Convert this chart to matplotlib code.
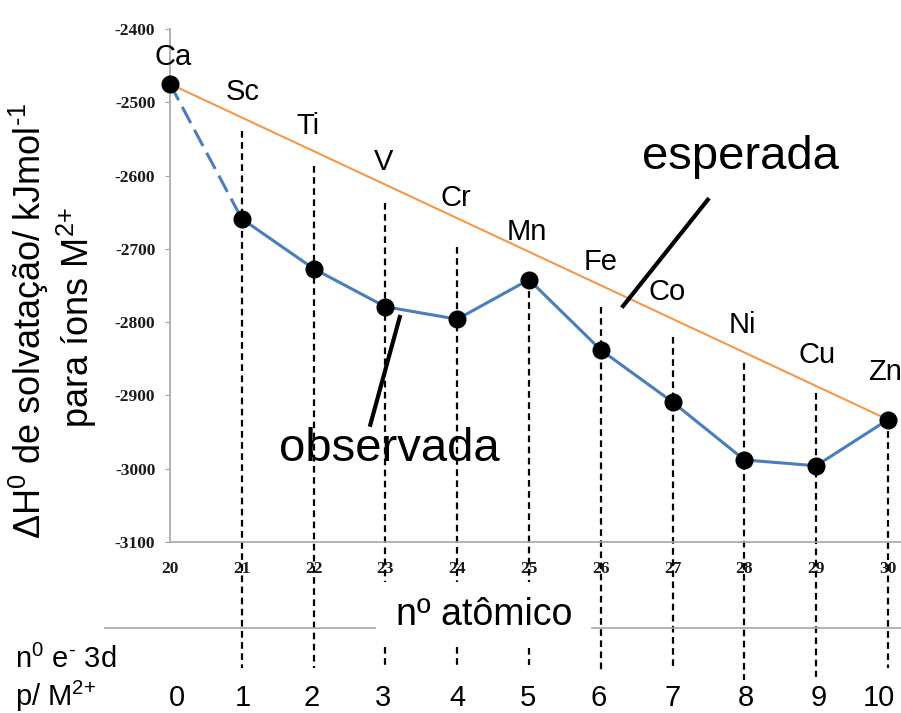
import matplotlib
matplotlib.use("Agg")
import matplotlib.pyplot as plt
from matplotlib.lines import Line2D
from matplotlib.transforms import blended_transform_factory

plt.rcParams['font.family'] = ['Liberation Sans', 'DejaVu Sans']
plt.rcParams['mathtext.fontset'] = 'custom'
plt.rcParams['mathtext.rm'] = 'Liberation Sans'
plt.rcParams['mathtext.it'] = 'Liberation Sans:italic'
plt.rcParams['mathtext.bf'] = 'Liberation Sans:bold'
plt.rcParams['axes.unicode_minus'] = False

# data
atomic_number = [20, 21, 22, 23, 24, 25, 26, 27, 28, 29, 30]
elements = ['Ca', 'Sc', 'Ti', 'V', 'Cr', 'Mn', 'Fe', 'Co', 'Ni', 'Cu', 'Zn']
n_3d = ['0', '1', '2', '3', '4', '5', '6', '7', '8', '9', '10']
observed = [-2475, -2659, -2727, -2779, -2796, -2742, -2838, -2909, -2988, -2996, -2933]
expected = [observed[0], observed[-1]]
expected_x = [atomic_number[0], atomic_number[-1]]

# dashed guide lines (top, bottom) in data units
guide_top = [None, -2539, -2587, -2637, -2697, -2742, -2779, -2820, -2856, -2897, -2933]
guide_bottom = [None, -3272, -3272, -3154, -3154, -3154, -3274, -3272, -3288, -3284, -3272]
short_dash = [None, None, None, (-3243, -3270), (-3243, -3270), (-3245, -3268),
              None, None, None, None, None]

# element label offsets (pixels) above the expected line
label_dx = [3, 1, -6, -2, -1, -2, 0, -5, -2, 1, -3]
label_dy = [27, 26, 25, 23, 20, 20, 23, 27, 27, 31, 48]
# bottom row horizontal nudges (pixels)
count_dx = [7, 1, -2, -2, 0, -1, -2, 0, 1, 2, -9]

fig = plt.figure(figsize=(9.01, 7.13), dpi=100)
W, H = 901, 713
ax = fig.add_axes([170 / W, 1 - 542 / H, 732 / W, 513 / H])
ax.set_xlim(20, 20 + 732 / 71.8)
ax.set_ylim(-3100, -2400)

# guide lines
for x, top, bot, sd in zip(atomic_number, guide_top, guide_bottom, short_dash):
    if top is None:
        continue
    ax.plot([x, x], [top, bot], color='black', lw=1.6, ls=(0, (3, 2)),
            clip_on=False, zorder=2)
    if sd is not None:
        ax.plot([x, x], list(sd), color='black', lw=1.6, ls=(0, (3, 2)),
                clip_on=False, zorder=2)

# expected line
ax.plot(expected_x, expected, color='#f79646', lw=1.5, zorder=3)

# observed line: dashed first segment, solid after
ax.plot(atomic_number[:2], observed[:2], color='#4a7ebb', lw=2.2,
        ls=(0, (6, 2.5)), zorder=3)
ax.plot(atomic_number[1:], observed[1:], color='#4a7ebb', lw=2.2, zorder=3)
ax.plot(atomic_number, observed, 'o', color='black', ms=12, zorder=4,
        clip_on=False)

# element labels
for i, el in enumerate(elements):
    x = atomic_number[i]
    y = expected[0] + (expected[1] - expected[0]) * (x - 20) / 10
    ax.annotate(el, (x, y), xytext=(label_dx[i], label_dy[i]),
                textcoords='offset pixels', ha='center', va='center',
                fontsize=21, annotation_clip=False)

# callouts
ax.text(27.95, -2575, 'esperada', fontsize=34, ha='center', va='center')
ax.plot([27.49, 26.31], [-2633, -2778], color='black', lw=3, zorder=5)
ax.text(23.06, -2973, 'observada', fontsize=34, ha='center', va='center')
ax.plot([23.2, 22.79], [-2793, -2940], color='black', lw=3, zorder=5)

# axes styling
for s in ['top', 'right']:
    ax.spines[s].set_visible(False)
for s in ['left', 'bottom']:
    ax.spines[s].set_color('#a6a6a6')
    ax.spines[s].set_linewidth(1.2)
ax.set_yticks(range(-3100, -2399, 100))
ax.set_xticks(atomic_number)
ax.tick_params(axis='y', direction='out', length=3.6, color='#a6a6a6',
               pad=7, labelsize=12.5)
ax.tick_params(axis='x', length=0, pad=14, labelsize=12.5)
for lab in ax.get_yticklabels() + ax.get_xticklabels():
    lab.set_fontfamily('Liberation Serif')
    lab.set_fontweight('bold')
    lab.set_color('#1a1a1a')

# y label (two lines)
fig.text(29 / W, 1 - 321 / H, r'ΔH$^{\mathrm{0}}$ de solvatação/ kJmol$^{\text{-1}}$',
         rotation=90, ha='center', va='center', fontsize=26)
fig.text(77 / W, 1 - 318 / H, r'para íons M$^{\text{2+}}$',
         rotation=90, ha='center', va='center', fontsize=26)

# lower section: separator, axis title, 3d electron count
fig.add_artist(Line2D([105 / W, 375 / W], [1 - 628 / H] * 2, color='#a6a6a6', lw=1.2))
fig.add_artist(Line2D([592 / W, 1.0], [1 - 628 / H] * 2, color='#a6a6a6', lw=1.2))
ax.text(24.37, -3100 - (615 - 542) / 0.733, 'nº atômico', fontsize=27,
        ha='center', va='center', clip_on=False)

fig.text(15 / W, 1 - 668 / H, r'n$^{\mathrm{0}}$ e$^{\text{-}}$ 3d', fontsize=21,
         ha='left', va='baseline')
fig.text(15 / W, 1 - 706 / H, r'p/ M$^{\text{2+}}$', fontsize=21,
         ha='left', va='baseline')
bottom_row = blended_transform_factory(ax.transData, fig.transFigure)
for x, n, dx in zip(atomic_number, n_3d, count_dx):
    ax.annotate(n, (x, 1 - 706 / H), xycoords=bottom_row, xytext=(dx, 0),
                textcoords='offset pixels', fontsize=21, ha='center',
                va='baseline', annotation_clip=False)

fig.savefig('out.png', dpi=100)
